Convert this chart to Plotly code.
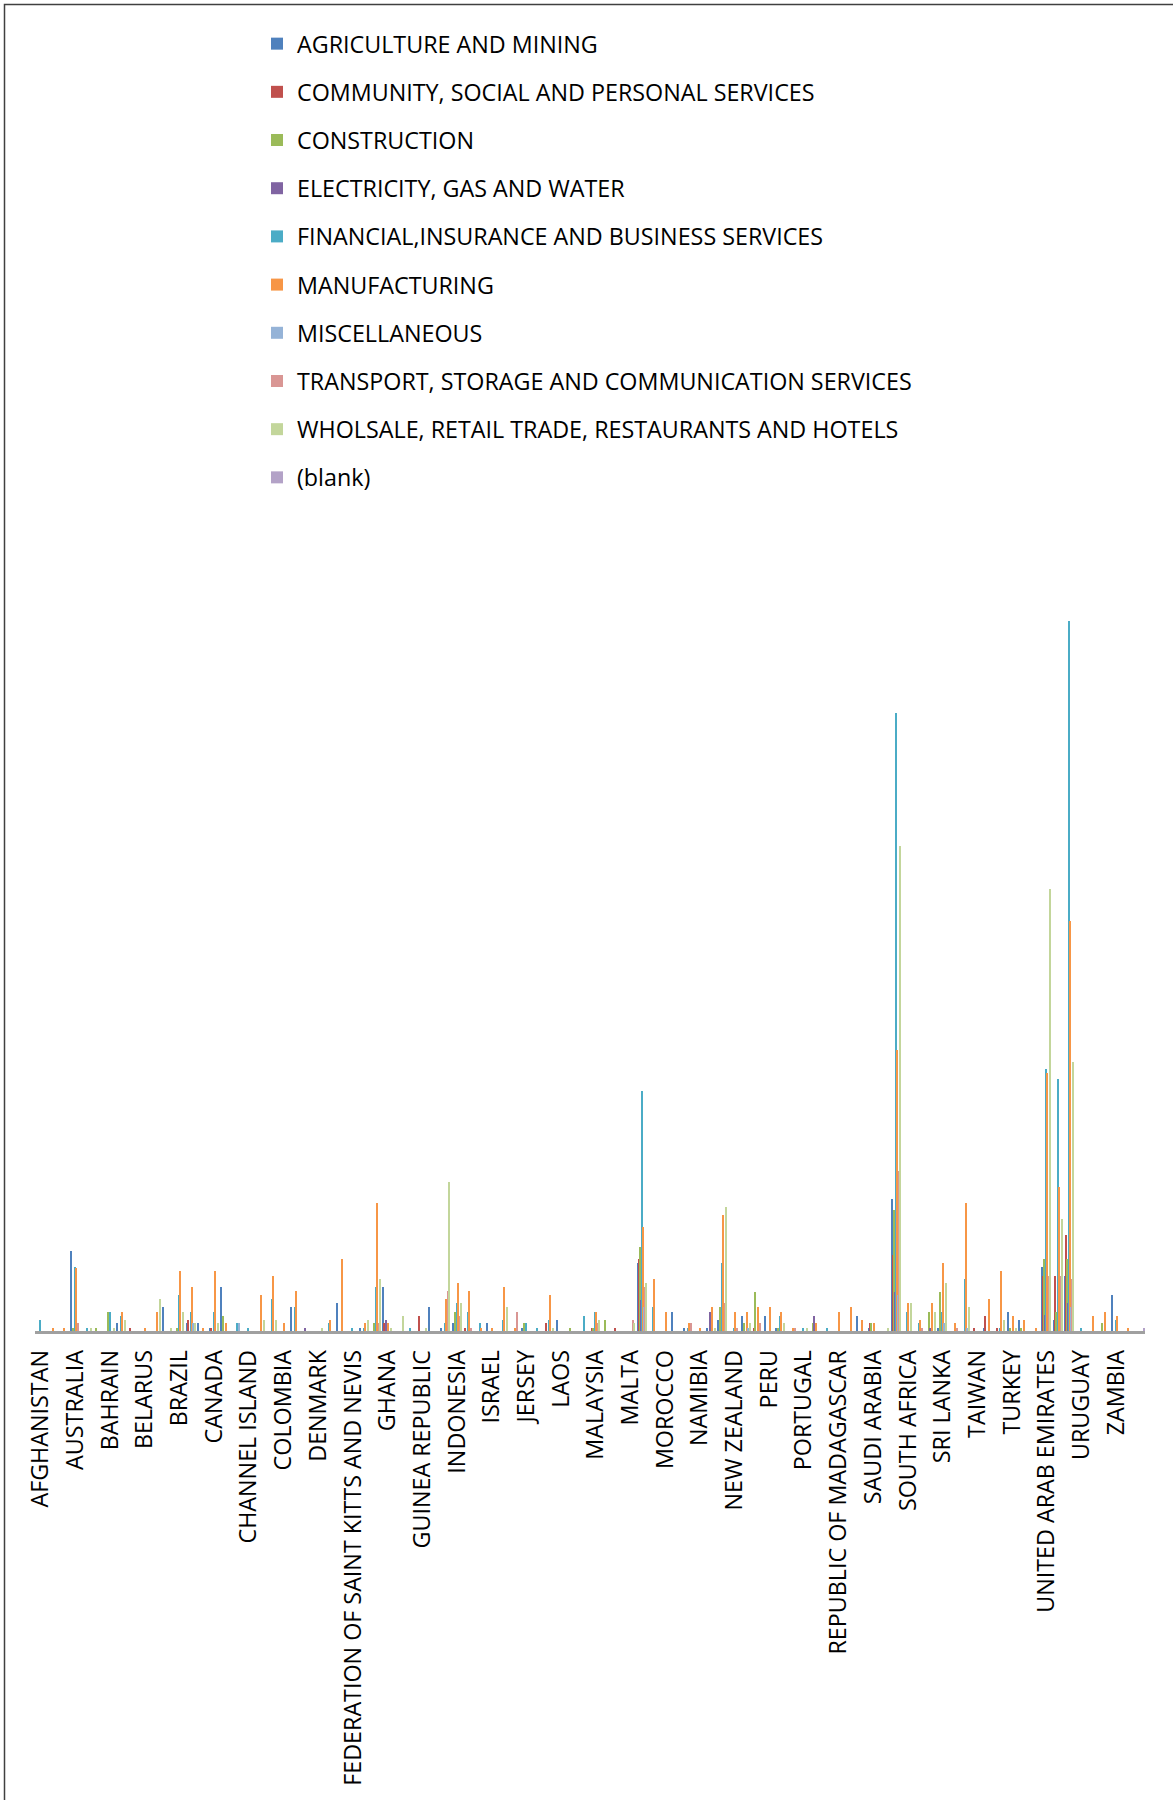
import plotly.graph_objects as go

# Destination countries (category axis); every third one carries a tick label
countries = [
    "AFGHANISTAN", "ALGERIA", "ARGENTINA", "AUSTRALIA", "AUSTRIA", "BAHAMAS",
    "BAHRAIN", "BANGLADESH", "BARBADOS", "BELARUS", "BELGIUM", "BOTSWANA",
    "BRAZIL", "BRITISH VIRGIN ISLANDS", "CAMBODIA", "CANADA", "CAYMAN ISLANDS", "CHAD",
    "CHANNEL ISLAND", "CHILE", "CHINA", "COLOMBIA", "CYPRUS", "CZECH REPUBLIC",
    "DENMARK", "EGYPT", "ETHIOPIA", "FEDERATION OF SAINT KITTS AND NEVIS", "FRANCE", "GERMANY",
    "GHANA", "GIBRALTAR", "GUERNSEY", "GUINEA REPUBLIC", "HONG KONG", "HUNGARY",
    "INDONESIA", "IRELAND", "ISLE OF MAN", "ISRAEL", "ITALY", "JAPAN",
    "JERSEY", "JORDAN", "KENYA", "LAOS", "LUXEMBOURG", "MALAWI",
    "MALAYSIA", "MALDIVES", "MALI", "MALTA", "MAURITIUS", "MEXICO",
    "MOROCCO", "MOZAMBIQUE", "MYANMAR", "NAMIBIA", "NEPAL", "NETHERLANDS",
    "NEW ZEALAND", "NIGERIA", "OMAN", "PERU", "PHILIPPINES", "POLAND",
    "PORTUGAL", "QATAR", "REPUBLIC OF KOREA", "REPUBLIC OF MADAGASCAR", "ROMANIA", "RUSSIA",
    "SAUDI ARABIA", "SEYCHELLES", "SINGAPORE", "SOUTH AFRICA", "SOUTH KOREA", "SPAIN",
    "SRI LANKA", "SUDAN", "SWITZERLAND", "TAIWAN", "TANZANIA", "THAILAND",
    "TURKEY", "UGANDA", "UKRAINE", "UNITED ARAB EMIRATES", "UNITED KINGDOM", "UNITED STATES OF AMERICA",
    "URUGUAY", "UZBEKISTAN", "VIETNAM", "ZAMBIA", "ZIMBABWE", "OTHERS",
]
tick_labels = countries[::3]

# Investment by sector for each country (same order as `countries`)
agriculture = [
    0, 0, 0, 80, 0, 0, 0, 8, 0, 0, 0, 24,
    0, 8, 8, 3, 44, 0, 0, 0, 0, 0, 24, 0,
    0, 0, 28, 0, 3, 0, 44, 0, 0, 0, 24, 3,
    8, 0, 0, 8, 0, 0, 3, 0, 0, 11, 0, 0,
    0, 0, 0, 0, 68, 0, 0, 19, 3, 0, 3, 11,
    0, 15, 0, 15, 3, 0, 0, 0, 0, 0, 0, 15,
    3, 0, 132, 0, 0, 0, 3, 0, 0, 0, 3, 0,
    19, 11, 0, 64, 11, 55, 0, 0, 0, 36, 0, 0,
]
community = [
    0, 0, 0, 0, 0, 0, 0, 0, 3, 0, 0, 0,
    0, 11, 0, 3, 0, 0, 0, 0, 0, 0, 0, 0,
    0, 0, 0, 0, 0, 0, 8, 0, 0, 15, 0, 0,
    0, 3, 0, 0, 0, 0, 0, 0, 8, 0, 0, 0,
    3, 0, 3, 0, 72, 0, 0, 0, 0, 0, 0, 0,
    0, 0, 3, 0, 0, 0, 0, 0, 0, 0, 0, 0,
    8, 0, 76, 0, 0, 0, 0, 0, 0, 3, 15, 3,
    0, 0, 0, 55, 55, 96, 0, 0, 0, 0, 0, 0,
]
construction = [
    0, 0, 0, 3, 0, 3, 19, 0, 0, 0, 0, 0,
    3, 0, 0, 0, 15, 0, 0, 0, 0, 0, 0, 0,
    0, 0, 0, 0, 0, 8, 0, 0, 0, 0, 0, 0,
    19, 0, 0, 0, 0, 0, 8, 0, 0, 0, 3, 0,
    3, 11, 0, 0, 84, 0, 0, 0, 0, 0, 0, 24,
    0, 8, 39, 0, 3, 0, 0, 8, 0, 0, 0, 0,
    8, 0, 121, 0, 0, 19, 39, 0, 0, 0, 0, 0,
    3, 3, 0, 72, 19, 72, 0, 0, 8, 0, 0, 0,
]
electricity = [
    0, 0, 0, 0, 0, 0, 0, 0, 0, 0, 0, 0,
    0, 0, 0, 0, 0, 0, 0, 0, 0, 0, 0, 3,
    0, 0, 0, 0, 0, 0, 11, 0, 0, 0, 0, 0,
    0, 0, 0, 0, 0, 0, 0, 0, 0, 0, 0, 0,
    0, 0, 0, 0, 31, 0, 0, 0, 0, 0, 19, 0,
    0, 0, 0, 0, 0, 0, 0, 15, 0, 0, 0, 0,
    0, 0, 39, 0, 0, 3, 0, 0, 0, 0, 0, 0,
    0, 0, 0, 16, 0, 28, 0, 0, 0, 0, 0, 0,
]
financial = [
    11, 0, 0, 64, 3, 0, 19, 15, 0, 0, 0, 0,
    36, 19, 0, 19, 0, 8, 3, 0, 32, 0, 24, 0,
    0, 8, 0, 3, 3, 44, 0, 0, 3, 0, 0, 8,
    28, 19, 8, 0, 11, 0, 8, 3, 11, 0, 0, 15,
    19, 0, 0, 0, 240, 24, 0, 0, 3, 0, 0, 68,
    3, 0, 0, 0, 15, 0, 3, 0, 3, 0, 0, 0,
    0, 0, 618, 19, 8, 0, 19, 0, 52, 0, 0, 3,
    0, 0, 0, 262, 252, 710, 3, 0, 0, 11, 0, 0,
]
manufacturing = [
    0, 3, 3, 63, 0, 0, 0, 19, 0, 3, 19, 0,
    60, 44, 3, 60, 8, 0, 0, 36, 55, 8, 40, 0,
    0, 11, 72, 0, 8, 128, 8, 0, 0, 0, 0, 32,
    48, 40, 3, 3, 44, 3, 0, 0, 36, 0, 0, 0,
    19, 0, 0, 0, 104, 52, 19, 0, 8, 3, 24, 116,
    19, 19, 24, 24, 19, 3, 0, 8, 0, 19, 24, 11,
    8, 0, 281, 28, 11, 28, 68, 8, 128, 0, 32, 60,
    15, 11, 3, 258, 144, 410, 0, 15, 19, 15, 3, 0,
]
miscellaneous = [
    0, 0, 0, 0, 0, 0, 0, 0, 0, 0, 0, 0,
    0, 8, 0, 0, 0, 8, 0, 0, 0, 0, 0, 0,
    0, 0, 0, 0, 0, 0, 0, 0, 0, 0, 0, 0,
    0, 0, 0, 0, 0, 0, 0, 0, 0, 0, 0, 0,
    0, 0, 0, 0, 24, 0, 0, 0, 0, 0, 0, 0,
    0, 3, 0, 0, 0, 0, 0, 0, 0, 0, 0, 0,
    0, 0, 36, 0, 0, 0, 8, 0, 3, 0, 0, 0,
    0, 0, 0, 0, 0, 24, 0, 0, 0, 0, 0, 0,
]
transport = [
    0, 0, 0, 8, 0, 0, 0, 0, 0, 0, 0, 0,
    0, 0, 0, 0, 0, 0, 0, 0, 0, 0, 0, 0,
    0, 0, 0, 0, 0, 8, 0, 0, 0, 0, 0, 40,
    15, 3, 0, 0, 0, 19, 0, 0, 0, 0, 0, 0,
    8, 0, 0, 11, 44, 0, 0, 0, 8, 0, 0, 28,
    3, 0, 8, 0, 0, 3, 0, 0, 0, 0, 0, 0,
    0, 0, 160, 0, 3, 0, 0, 3, 0, 0, 0, 0,
    0, 0, 0, 55, 55, 52, 0, 0, 0, 0, 0, 0,
]
wholesale = [
    0, 0, 0, 0, 3, 0, 3, 11, 0, 0, 32, 3,
    19, 8, 0, 8, 0, 0, 0, 11, 11, 0, 0, 0,
    3, 0, 0, 0, 11, 52, 3, 15, 0, 3, 0, 149,
    28, 0, 0, 0, 24, 0, 0, 0, 3, 0, 0, 0,
    11, 0, 0, 8, 48, 0, 0, 0, 0, 0, 3, 124,
    0, 8, 0, 0, 8, 0, 3, 0, 0, 0, 0, 0,
    0, 3, 485, 28, 0, 19, 48, 0, 24, 0, 0, 11,
    3, 0, 0, 442, 112, 269, 0, 0, 0, 0, 0, 0,
]
blank = [0] * 95 + [3]

series = [
    ("AGRICULTURE AND MINING", agriculture, "#4F81BD"),
    ("COMMUNITY, SOCIAL AND PERSONAL SERVICES", community, "#C0504D"),
    ("CONSTRUCTION", construction, "#9BBB59"),
    ("ELECTRICITY, GAS AND WATER", electricity, "#8064A2"),
    ("FINANCIAL,INSURANCE AND BUSINESS SERVICES", financial, "#4BACC6"),
    ("MANUFACTURING", manufacturing, "#F79646"),
    ("MISCELLANEOUS", miscellaneous, "#95B3D7"),
    ("TRANSPORT, STORAGE AND COMMUNICATION SERVICES", transport, "#D99694"),
    ("WHOLSALE, RETAIL TRADE, RESTAURANTS AND HOTELS", wholesale, "#C3D69B"),
    ("(blank)", blank, "#B3A2C7"),
]

W, H = 1173, 1800
ML, MR, MT, MB = 35, 28, 531, 469
PW, PH = W - ML - MR, H - MT - MB


def px_to_paper(x, y):
    return (x - ML) / PW, (H - MB - y) / PH


fig = go.Figure()
for name, values, color in series:
    fig.add_trace(go.Bar(
        x=countries, y=values, name=name, legendgroup=name,
        marker=dict(color=color, line=dict(width=0)),
    ))

lx, ly = px_to_paper(257, 22)
bx0, by0 = px_to_paper(4.5, 1830)
bx1, by1 = px_to_paper(1200, 4.5)

fig.update_layout(
    width=W, height=H,
    margin=dict(l=ML, r=MR, t=MT, b=MB, autoexpand=False),
    paper_bgcolor="white", plot_bgcolor="white",
    barmode="group", bargap=0.13, bargroupgap=0,
    font=dict(family="Open Sans", color="black"),
    showlegend=True,
    legend=dict(
        x=lx, y=ly, xanchor="left", yanchor="top",
        orientation="v", tracegroupgap=14.9,
        font=dict(family="Open Sans", size=23.3, color="black"),
        bgcolor="rgba(0,0,0,0)",
    ),
    xaxis=dict(
        type="category", categoryorder="array", categoryarray=countries,
        range=[-0.5, len(countries) - 0.5],
        tickmode="array", tickvals=tick_labels, ticktext=tick_labels,
        tickangle=-90, tickfont=dict(family="Open Sans", size=23.3, color="black"),
        ticks="", ticklabelstandoff=7,
        showline=True, linecolor="#A0A0A0", linewidth=2.5,
        showgrid=False, zeroline=False,
    ),
    yaxis=dict(range=[0, PH], visible=False, showgrid=False, zeroline=False),
    shapes=[dict(
        type="rect", xref="paper", yref="paper",
        x0=bx0, y0=by0, x1=bx1, y1=by1,
        line=dict(color="#404040", width=1.5), fillcolor="rgba(0,0,0,0)", layer="below",
    )],
)

fig.write_html("out.html")
